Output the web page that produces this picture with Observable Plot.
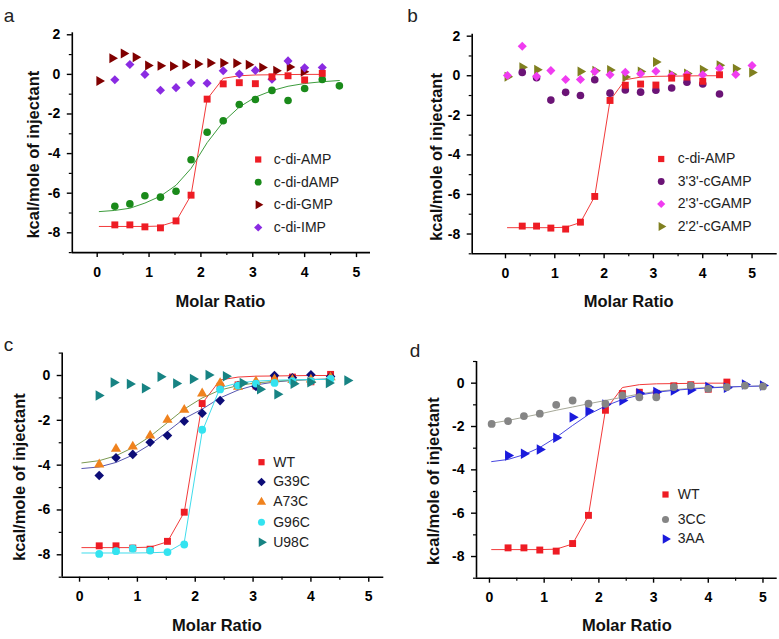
<!DOCTYPE html>
<html><head><meta charset="utf-8">
<script src="https://cdn.jsdelivr.net/npm/d3@7"></script>
<script src="https://cdn.jsdelivr.net/npm/@observablehq/plot@0.6"></script>
<style>
body{margin:0;background:#fff;}
#fig{position:relative;width:779px;height:639px;overflow:hidden;background:#fff;}
#fig > svg{position:absolute;}
</style></head><body><div id="fig"></div>
<script>
// injection molar ratios
const X = [0.04,0.34,0.63,0.92,1.22,1.52,1.81,2.12,2.43,2.74,3.05,3.37,3.68,4.0,4.34,4.67,5.0];
const xGMP = [0.04,0.29,0.51,0.74,0.98,1.22,1.46,1.70,1.94,2.18,2.43,2.68,2.92,3.18,3.45,3.71,3.98];
const xU98C = [0.33,0.59,0.87,1.13,1.40,1.67,1.96,2.23,2.53,2.82,3.12,3.42,3.70,3.99,4.31,4.63];
const x22 = [0.04,0.34,0.64,1.52,1.82,2.12,2.43,2.74,3.05,3.37,3.68,4.0,4.34,4.67,5.0];

// panel a
const yAMP  = [-7.6,-7.6,-7.7,-7.75,-7.4,-6.1,-1.25,-0.48,-0.42,-0.47,-0.12,-0.07,-0.28,0.05];
const ydAMP = [-6.66,-6.54,-6.13,-6.2,-5.9,-4.31,-2.92,-2.34,-1.52,-1.27,-0.81,-1.32,-0.71,-0.26,-0.58];
const yGMP  = [-0.33,0.81,1.05,0.87,0.45,0.43,0.41,0.5,0.52,0.57,0.58,0.56,0.49,0.35,0.18,0.37,0.13];
const yIMP  = [-0.27,0.5,0.0,-0.8,-0.67,-0.42,-0.45,0.18,0.02,0.2,-0.24,0.68,0.33,0.35];
const fitAMP  = [-7.68,-7.68,-7.68,-7.68,-7.66,-7.42,-6.1,-1.25,-0.2,-0.07,-0.03,-0.02,-0.01,0,0];
const fitdAMP = [-6.93,-6.87,-6.76,-6.5,-6.15,-5.6,-4.75,-3.45,-2.4,-1.65,-1.15,-0.82,-0.6,-0.46,-0.37,-0.31];

// panel b
const y33 = [0.17,-0.1,-1.23,-0.84,-1.0,-0.2,-0.88,-0.72,-0.83,-0.73,-0.62,-0.33,-0.42,-0.92];
const y23 = [0.01,1.49,-0.03,0.26,-0.19,-0.19,0.21,0.05,0.18,0.1,0.23,0.01,0.06,0.05,0.38,0.06,0.52];
const y22 = [-0.05,0.43,0.3,0.22,0.25,0.29,-0.06,0.22,0.7,0.07,0.11,0.3,0.53,0.35,0.16];

// panel c
const yG39C = [-4.46,-3.67,-3.52,-2.98,-2.68,-2.04,-1.68,-1.12,-0.45,-0.49,0.0,-0.1,0.03,-0.04];
const yA73C = [-3.97,-3.27,-3.17,-2.68,-1.98,-1.53,-0.8,-0.34,-0.5,-0.26,-0.17,-0.2,-0.18,-0.08];
const yG96C = [-7.96,-7.84,-7.72,-7.81,-7.88,-7.54,-2.42,-0.62,-0.45,-0.36,-0.33,-0.25,-0.25,-0.15];
const yU98C = [-0.89,-0.31,-0.38,-0.57,-0.06,-0.36,-0.16,0.02,-0.03,-0.33,-0.61,-0.84,-0.37,-0.3,-0.33,-0.22];
const fitG39C = [-4.15,-4.08,-3.88,-3.55,-3.08,-2.5,-1.92,-1.5,-1.0,-0.65,-0.42,-0.29,-0.22,-0.18,-0.16];
const fitA73C = [-3.9,-3.8,-3.58,-3.22,-2.72,-2.1,-1.5,-1.0,-0.65,-0.45,-0.33,-0.26,-0.21,-0.18,-0.16];
const fitG96C = [-7.92,-7.92,-7.92,-7.92,-7.91,-7.88,-7.45,-2.5,-0.55,-0.33,-0.25,-0.21,-0.19,-0.18,-0.17];

// panel d
const y3CC = [-1.88,-1.75,-1.52,-1.41,-1.0,-0.8,-0.95,-0.95,-0.57,-0.65,-0.65,-0.18,-0.11,-0.26,-0.18,-0.11,-0.15];
const y3AA = [-3.34,-3.26,-3.06,-2.52,-1.57,-1.29,-0.98,-0.8,-0.46,-0.41,-0.34,-0.31,-0.18,-0.21,-0.06,-0.11];
const fit3CC = [-1.85,-1.72,-1.57,-1.42,-1.25,-1.1,-0.95,-0.8,-0.65,-0.5,-0.38,-0.3,-0.24,-0.2,-0.17,-0.15,-0.13];
const fit3AA = [-3.62,-3.52,-3.3,-2.97,-2.5,-1.95,-1.45,-1.05,-0.75,-0.55,-0.42,-0.33,-0.27,-0.22,-0.18,-0.15,-0.13];

const xTicksMajor = [0,1,2,3,4,5];
const xTicksMinor = [0.5,1.5,2.5,3.5,4.5];

const triRight = {draw(ctx, size){
  const r = Math.sqrt(size/(Math.sqrt(3)*3));
  ctx.moveTo(2*r,0); ctx.lineTo(-r, Math.sqrt(3)*r); ctx.lineTo(-r,-Math.sqrt(3)*r); ctx.closePath();
}};

const C = {red:"#ee1c24", green:"#1a8a1a", dred:"#800000", violet:"#8a2be2", dpurple:"#6b1476",
  magenta:"#f03cf0", olive:"#808020", navy:"#0d0d78", orange:"#f0821e", cyan:"#33e3f0", teal:"#178383",
  grey:"#858585", blue:"#1b1bdc"};

const pts = (xs, ys) => ys.map((y,i) => ({x: xs[i], y}));

function panel(cfg){
  const m = cfg.margin;
  const marks = [];
  for (const f of cfg.fits) marks.push(Plot.line(pts(f.x, f.y), {x:"x", y:"y", stroke:f.color, strokeWidth:1}));
  for (const s of cfg.series) marks.push(Plot.dot(pts(s.x, s.y), {x:"x", y:"y", symbol:s.symbol, fill:s.color, stroke:"none", r:s.r}));
  marks.push(
    Plot.ruleX([cfg.xDomain[0]], {strokeWidth:1.6}),
    Plot.ruleY([cfg.yDomain[0]], {strokeWidth:1.6}),
    Plot.axisX({ticks:xTicksMajor, tickSize:5, tickPadding:9, tickFormat:d=>String(d), label:null, fontWeight:"bold", fontSize:14, strokeWidth:1.4}),
    Plot.axisX({ticks:xTicksMinor, tickSize:3, text:null, label:null, strokeWidth:1.2}),
    Plot.axisY({ticks:cfg.yMajor, tickSize:5, tickPadding:7, tickFormat:d=>String(d), label:null, fontWeight:"bold", fontSize:14, strokeWidth:1.4}),
    Plot.axisY({ticks:cfg.yMinor, tickSize:3, text:null, label:null, strokeWidth:1.2}),
    Plot.text(["Molar Ratio"], {text:d=>d, frameAnchor:"bottom", dx:cfg.xl[0], dy:cfg.xl[1], textAnchor:"middle", lineAnchor:"middle", fontWeight:"bold", fontSize:16.5, fill:"#111"}),
    Plot.text(["kcal/mole of injectant"], {text:d=>d, frameAnchor:"left", dx:cfg.yl[0], dy:cfg.yl[1], rotate:-90, textAnchor:"middle", lineAnchor:"middle", fontWeight:"bold", fontSize:16.5, fill:"#111"}),
    Plot.text([cfg.letter], {text:d=>d, frameAnchor:"top-left", dx:cfg.lp[0]-m.left, dy:cfg.lp[1]-m.top, textAnchor:"start", lineAnchor:"bottom", fontSize:19, fill:"#222"})
  );
  cfg.series.forEach((s) => {
    const j = cfg.legendOrder.indexOf(s.name);
    const row = cfg.leg.rows[j];
    marks.push(
      Plot.dot([s], {frameAnchor:"top-left", dx:cfg.leg.mx-m.left, dy:row-m.top, symbol:s.symbol, fill:s.color, stroke:"none", r:s.r*0.9}),
      Plot.text([s], {frameAnchor:"top-left", dx:cfg.leg.tx-m.left, dy:row-m.top, text:d=>d.name, textAnchor:"start", lineAnchor:"middle", fontSize:14, fill:"#222"})
    );
  });
  const svg = Plot.plot({
    width: cfg.w, height: cfg.h,
    marginTop:m.top, marginRight:m.right, marginBottom:m.bottom, marginLeft:m.left,
    x:{domain:cfg.xDomain, axis:null}, y:{domain:cfg.yDomain, axis:null},
    style:{fontFamily:"'Liberation Sans', Arial, sans-serif", background:"transparent", overflow:"visible"},
    marks
  });
  svg.style.left = cfg.left + "px";
  svg.style.top = cfg.top + "px";
  svg.style.maxWidth = "none";
  document.getElementById("fig").appendChild(svg);
}

const Xa = X.slice(1,15);
const yMajA = [-8,-6,-4,-2,0,2], yMinA = [-9,-7,-5,-3,-1,1];
const yMajC = [-8,-6,-4,-2,0], yMinC = [-9,-7,-5,-3,-1,1];
const fitXred = X.slice(0,15);

panel({letter:"a", left:0, top:0, w:390, h:320,
  margin:{top:32.3,right:20,bottom:67.9,left:71.8},
  xDomain:[-0.48,5.27], yDomain:[-9,2.1], yMajor:yMajA, yMinor:yMinA,
  xl:[-1,49.6], yl:[-38.5,12], lp:[3.3,21.7],
  fits:[{x:fitXred, y:fitAMP, color:"#f23a3a"},{x:X.slice(0,16), y:fitdAMP, color:"#3d9c3d"}],
  series:[
    {name:"c-di-GMP", x:xGMP, y:yGMP, symbol:triRight, color:C.dred, r:3.7},
    {name:"c-di-IMP", x:Xa, y:yIMP, symbol:"diamond2", color:C.violet, r:4.1},
    {name:"c-di-dAMP", x:X.slice(1,16), y:ydAMP, symbol:"circle", color:C.green, r:3.8},
    {name:"c-di-AMP", x:Xa, y:yAMP, symbol:"square", color:C.red, r:3.9}],
  legendOrder:["c-di-AMP","c-di-dAMP","c-di-GMP","c-di-IMP"],
  leg:{mx:257.7, tx:273.3, rows:[159,181.7,204.3,227]}
});

panel({letter:"b", left:390, top:0, w:389, h:320,
  margin:{top:33.7,right:2.3,bottom:66.7,left:81.7},
  xDomain:[-0.675,5.51], yDomain:[-9,2.1], yMajor:yMajA, yMinor:yMinA,
  xl:[4,48.4], yl:[-35,13], lp:[16.7,21.7],
  fits:[{x:fitXred, y:fitAMP, color:"#f23a3a"}],
  series:[
    {name:"2'2'-cGAMP", x:x22, y:y22, symbol:triRight, color:C.olive, r:3.7},
    {name:"3'3'-cGAMP", x:Xa, y:y33, symbol:"circle", color:C.dpurple, r:3.8},
    {name:"2'3'-cGAMP", x:X, y:y23, symbol:"diamond2", color:C.magenta, r:4.1},
    {name:"c-di-AMP", x:Xa, y:yAMP, symbol:"square", color:C.red, r:3.9}],
  legendOrder:["c-di-AMP","3'3'-cGAMP","2'3'-cGAMP","2'2'-cGAMP"],
  leg:{mx:270.7, tx:287.3, rows:[158.5,181,203.5,226]}
});

panel({letter:"c", left:0, top:320, w:390, h:319,
  margin:{top:32.6,right:6.7,bottom:62.3,left:61.7},
  xDomain:[-0.3,5.26], yDomain:[-9,1], yMajor:yMajC, yMinor:yMinC,
  xl:[-6,48.3], yl:[-42.4,12], lp:[3.3,30],
  fits:[{x:fitXred, y:fitAMP, color:"#f23a3a"},{x:fitXred, y:fitG39C, color:"#5656b0"},
        {x:fitXred, y:fitA73C, color:"#7c9a52"},{x:fitXred, y:fitG96C, color:"#3fdcec"}],
  series:[
    {name:"WT", x:Xa, y:yAMP, symbol:"square", color:C.red, r:3.9},
    {name:"G39C", x:Xa, y:yG39C, symbol:"diamond2", color:C.navy, r:4.3},
    {name:"A73C", x:Xa, y:yA73C, symbol:"triangle", color:C.orange, r:3.8},
    {name:"G96C", x:Xa, y:yG96C, symbol:"circle", color:C.cyan, r:3.9},
    {name:"U98C", x:xU98C, y:yU98C, symbol:triRight, color:C.teal, r:3.9}],
  legendOrder:["WT","G39C","A73C","G96C","U98C"],
  leg:{mx:261, tx:272.7, rows:[141.7,161.5,181.5,201.7,221.7]}
});

panel({letter:"d", left:390, top:320, w:389, h:319,
  margin:{top:41,right:2.3,bottom:61.3,left:86},
  xDomain:[-0.237,5.26], yDomain:[-9,1], yMajor:yMajC, yMinor:yMinC,
  xl:[0,47.3], yl:[-42.7,11.4], lp:[19.3,36.7],
  fits:[{x:fitXred, y:fitAMP, color:"#f23a3a"},{x:X, y:fit3CC, color:"#a6a898"},{x:X, y:fit3AA, color:"#4848e0"}],
  series:[
    {name:"WT", x:Xa, y:yAMP, symbol:"square", color:C.red, r:3.9},
    {name:"3AA", x:X.slice(1), y:y3AA, symbol:triRight, color:C.blue, r:3.9},
    {name:"3CC", x:X, y:y3CC, symbol:"circle", color:C.grey, r:3.9}],
  legendOrder:["WT","3CC","3AA"],
  leg:{mx:275, tx:287.3, rows:[174,199,218.5]}
});
</script>
</body></html>
